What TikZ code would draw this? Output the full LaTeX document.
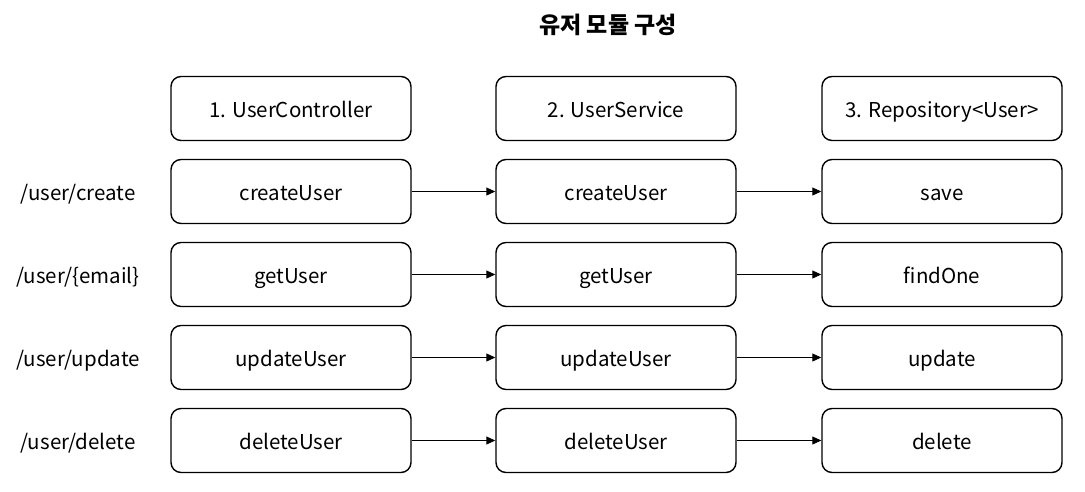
\documentclass[tikz,border=0pt]{standalone}
\usepackage{fontspec}
\setmainfont{Noto Sans CJK KR}
\usetikzlibrary{arrows.meta}
\begin{document}
\begin{tikzpicture}[x=1pt,y=-1pt,
  txt/.style={font=\fontsize{20.5}{24}\selectfont,text height=18pt,text depth=0pt,inner sep=0pt},
  box/.style={txt,draw,line width=1.4pt,rounded corners=10pt,minimum width=240pt,minimum height=64pt},
  lbl/.style={txt},
  arr/.style={line width=0.9pt,-{Triangle[length=9pt,width=8pt]}}]
\useasboundingbox (0,0) rectangle (1085,491);
\node[font=\bfseries\fontsize{23}{27}\selectfont] (title) at (608,25) {유저 모듈 구성};
\node[box] (h1) at (291,108.5) {1. UserController};
\node[box] (h2) at (616,108.5) {2. UserService};
\node[box] (h3) at (942,108.5) {3. Repository<User>};
\foreach \i/\y/\p/\a/\b/\c in {1/191.5/create/createUser/createUser/save,
  2/274.5/\{email\}/getUser/getUser/findOne,
  3/357.5/update/updateUser/updateUser/update,
  4/440.5/delete/deleteUser/deleteUser/delete}{
  \node[lbl] (l\i) at (78,\y) {/user/\p};
  \node[box] (a\i) at (291,\y) {\a};
  \node[box] (b\i) at (616,\y) {\b};
  \node[box] (c\i) at (942,\y) {\c};
  \draw[arr] (a\i) -- (b\i);
  \draw[arr] (b\i) -- (c\i);
}
\end{tikzpicture}
\end{document}
